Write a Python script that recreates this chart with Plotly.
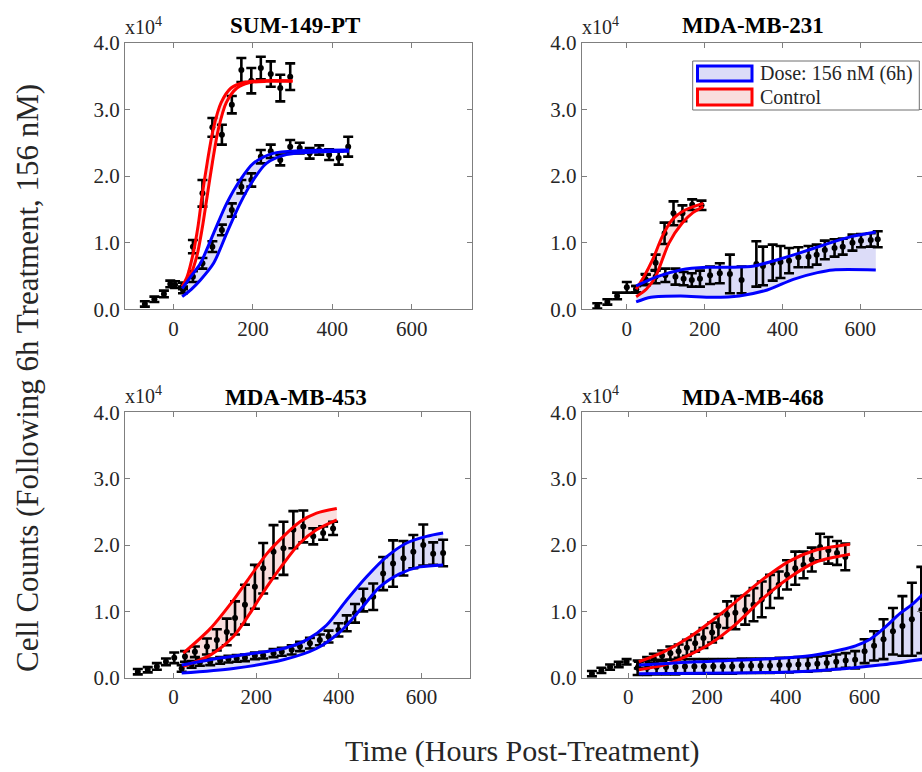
import plotly.graph_objects as go

W, H = 922, 772
FONT = "Liberation Serif, Times New Roman, serif"

# ---------------- data (cell counts in units of 1e4) ----------------
# Panel 1: SUM-149-PT
p1_pre_t = [-72, -48, -24, -8, 4]
p1_pre_v = [0.08, 0.15, 0.23, 0.38, 0.37]
p1_pre_e = [0.04, 0.04, 0.05, 0.05, 0.05]
p1_ctl_t = [24, 49, 73, 98, 122, 147, 171, 196, 220, 245, 269, 294]
p1_ctl_v = [0.35, 0.94, 1.74, 2.73, 2.62, 3.07, 3.59, 3.43, 3.62, 3.53, 3.32, 3.49]
p1_ctl_e = [0.05, 0.10, 0.20, 0.14, 0.15, 0.13, 0.18, 0.19, 0.17, 0.19, 0.20, 0.20]
p1_trt_t = [24, 49, 73, 98, 122, 147, 171, 196, 220, 245, 269, 294, 318, 343, 367, 392, 416, 440]
p1_trt_v = [0.29, 0.49, 0.69, 0.94, 1.19, 1.49, 1.84, 1.94, 2.29, 2.37, 2.24, 2.44, 2.42, 2.34, 2.39, 2.32, 2.27, 2.44]
p1_trt_e = [0.05, 0.08, 0.08, 0.08, 0.08, 0.10, 0.10, 0.10, 0.10, 0.10, 0.08, 0.10, 0.08, 0.08, 0.07, 0.08, 0.10, 0.15]
p1_rup_t = [22, 35, 50, 62, 72, 85, 100, 120, 145, 175, 220, 300]
p1_rup_v = [0.34, 0.50, 0.85, 1.25, 1.70, 2.20, 2.70, 3.10, 3.32, 3.40, 3.43, 3.43]
p1_rlo_t = [22, 42, 59, 72, 85, 98, 113, 133, 160, 190, 235, 300]
p1_rlo_v = [0.34, 0.50, 0.80, 1.20, 1.70, 2.20, 2.70, 3.10, 3.32, 3.40, 3.42, 3.42]
p1_bup_t = [22, 45, 68, 101, 134, 168, 201, 251, 317, 442]
p1_bup_v = [0.31, 0.50, 0.69, 1.14, 1.59, 1.94, 2.19, 2.34, 2.38, 2.39]
p1_blo_t = [22, 45, 68, 101, 134, 168, 201, 234, 284, 359, 442]
p1_blo_v = [0.19, 0.30, 0.44, 0.69, 1.14, 1.59, 1.94, 2.19, 2.32, 2.36, 2.37]

# Panel 2: MDA-MB-231
p2_pre_t = [-76, -50, -25, 0]
p2_pre_v = [0.05, 0.11, 0.20, 0.33]
p2_pre_e = [0.04, 0.04, 0.05, 0.08]
p2_ctl_t = [24, 48, 74, 97, 120, 143, 168, 192]
p2_ctl_v = [0.30, 0.45, 0.70, 1.14, 1.44, 1.44, 1.57, 1.56]
p2_ctl_e = [0.05, 0.08, 0.12, 0.16, 0.18, 0.12, 0.08, 0.07]
p2_trt_t = [24, 49, 74, 99, 125, 146, 167, 188, 214, 239, 265, 295, 333, 350, 375, 395, 417, 441, 467, 488, 509, 534, 555, 580, 602, 627, 645]
p2_trt_v = [0.30, 0.44, 0.49, 0.51, 0.49, 0.46, 0.44, 0.46, 0.51, 0.54, 0.53, 0.44, 0.68, 0.65, 0.70, 0.71, 0.73, 0.78, 0.79, 0.82, 0.89, 0.92, 0.94, 1.00, 1.03, 1.04, 1.05]
p2_trt_e = [0.05, 0.08, 0.10, 0.10, 0.12, 0.10, 0.10, 0.12, 0.13, 0.15, 0.29, 0.20, 0.34, 0.29, 0.27, 0.24, 0.19, 0.15, 0.16, 0.15, 0.14, 0.13, 0.12, 0.12, 0.10, 0.10, 0.12]
p2_rup_t = [24, 45, 66, 91, 116, 150, 197]
p2_rup_v = [0.30, 0.50, 0.74, 1.09, 1.34, 1.49, 1.59]
p2_rlo_t = [24, 50, 74, 108, 142, 170, 197]
p2_rlo_v = [0.19, 0.30, 0.49, 0.99, 1.29, 1.45, 1.54]
p2_bup_t = [24, 78, 138, 205, 273, 327, 374, 441, 509, 576, 640]
p2_bup_v = [0.35, 0.49, 0.59, 0.63, 0.63, 0.65, 0.72, 0.84, 0.97, 1.09, 1.16]
p2_blo_t = [24, 62, 138, 221, 289, 361, 428, 490, 530, 640]
p2_blo_v = [0.11, 0.18, 0.20, 0.18, 0.20, 0.29, 0.45, 0.55, 0.59, 0.59]

# Panel 3: MDA-MB-453
p3_pre_t = [-86, -62, -40, -18, 2]
p3_pre_v = [0.09, 0.12, 0.17, 0.24, 0.30]
p3_pre_e = [0.04, 0.04, 0.05, 0.05, 0.08]
p3_ctl_t = [28, 52, 81, 105, 129, 149, 173, 197, 217, 242, 266, 290, 314, 338, 362, 386]
p3_ctl_v = [0.32, 0.39, 0.47, 0.57, 0.69, 0.90, 1.10, 1.37, 1.65, 1.90, 1.95, 2.23, 2.28, 2.13, 2.18, 2.25]
p3_ctl_e = [0.08, 0.08, 0.12, 0.16, 0.20, 0.25, 0.30, 0.33, 0.38, 0.40, 0.40, 0.28, 0.24, 0.12, 0.10, 0.10]
p3_trt_t = [20, 44, 64, 89, 113, 133, 153, 173, 197, 217, 242, 262, 286, 306, 330, 354, 375, 399, 419, 439, 459, 483, 507, 531, 556, 580, 604, 628, 652]
p3_trt_v = [0.14, 0.20, 0.23, 0.24, 0.26, 0.28, 0.29, 0.30, 0.33, 0.34, 0.37, 0.39, 0.42, 0.47, 0.52, 0.57, 0.62, 0.72, 0.82, 0.97, 1.17, 1.22, 1.57, 1.72, 1.80, 1.90, 2.00, 1.87, 1.88]
p3_trt_e = [0.05, 0.05, 0.05, 0.05, 0.05, 0.05, 0.05, 0.05, 0.05, 0.05, 0.06, 0.06, 0.07, 0.07, 0.08, 0.08, 0.09, 0.10, 0.12, 0.14, 0.17, 0.20, 0.25, 0.35, 0.26, 0.25, 0.31, 0.17, 0.20]
p3_rup_t = [24, 89, 145, 185, 226, 266, 306, 346, 395]
p3_rup_v = [0.37, 0.74, 1.17, 1.52, 1.87, 2.13, 2.35, 2.48, 2.55]
p3_rlo_t = [24, 89, 145, 185, 226, 266, 306, 346, 395]
p3_rlo_v = [0.17, 0.34, 0.62, 0.97, 1.37, 1.72, 2.03, 2.23, 2.38]
p3_bup_t = [20, 105, 185, 266, 322, 370, 419, 467, 515, 564, 612, 652]
p3_bup_v = [0.19, 0.29, 0.36, 0.44, 0.57, 0.79, 1.17, 1.52, 1.82, 2.03, 2.13, 2.18]
p3_blo_t = [20, 145, 266, 346, 403, 451, 499, 548, 596, 652]
p3_blo_v = [0.07, 0.14, 0.27, 0.44, 0.69, 1.02, 1.37, 1.57, 1.67, 1.70]

# Panel 4: MDA-MB-468
p4_pre_t = [-92, -68, -46, -24, -4]
p4_pre_v = [0.06, 0.11, 0.16, 0.20, 0.24]
p4_pre_e = [0.04, 0.04, 0.04, 0.04, 0.04]
p4_ctl_t = [27, 48, 65, 86, 107, 128, 149, 170, 191, 213, 229, 251, 272, 297, 318, 339, 360, 382, 403, 424, 445, 466, 487, 508, 530, 551]
p4_ctl_v = [0.19, 0.25, 0.29, 0.33, 0.37, 0.40, 0.45, 0.52, 0.60, 0.68, 0.78, 0.95, 0.98, 1.02, 1.10, 1.18, 1.30, 1.40, 1.55, 1.65, 1.70, 1.78, 1.97, 1.92, 1.88, 1.82]
p4_ctl_e = [0.05, 0.06, 0.07, 0.08, 0.10, 0.10, 0.12, 0.13, 0.15, 0.15, 0.18, 0.20, 0.25, 0.22, 0.25, 0.27, 0.25, 0.20, 0.22, 0.25, 0.20, 0.18, 0.20, 0.20, 0.18, 0.20]
p4_trt_t = [24, 48, 72, 96, 120, 144, 168, 192, 216, 240, 264, 288, 312, 336, 360, 384, 408, 432, 456, 480, 504, 528, 552, 576, 600, 624, 648, 672, 696, 720, 744]
p4_trt_v = [0.15, 0.15, 0.16, 0.16, 0.16, 0.17, 0.17, 0.17, 0.17, 0.17, 0.17, 0.18, 0.18, 0.18, 0.18, 0.19, 0.19, 0.20, 0.20, 0.21, 0.22, 0.24, 0.26, 0.27, 0.40, 0.48, 0.58, 0.70, 0.78, 0.88, 1.02]
p4_trt_e = [0.11, 0.11, 0.11, 0.11, 0.11, 0.11, 0.11, 0.11, 0.11, 0.11, 0.11, 0.11, 0.11, 0.11, 0.11, 0.11, 0.11, 0.11, 0.11, 0.11, 0.11, 0.11, 0.11, 0.13, 0.18, 0.22, 0.30, 0.35, 0.45, 0.55, 0.65]
p4_rup_t = [27, 90, 158, 215, 272, 339, 407, 475, 563]
p4_rup_v = [0.24, 0.39, 0.62, 0.87, 1.14, 1.47, 1.75, 1.92, 2.01]
p4_rlo_t = [27, 90, 150, 210, 272, 339, 407, 475, 563]
p4_rlo_v = [0.12, 0.19, 0.33, 0.52, 0.80, 1.18, 1.50, 1.74, 1.86]
p4_bup_t = [27, 175, 344, 470, 540, 577, 614, 650, 690, 720, 750]
p4_bup_v = [0.19, 0.24, 0.28, 0.34, 0.42, 0.48, 0.58, 0.75, 0.97, 1.10, 1.27]
p4_blo_t = [27, 259, 428, 555, 639, 750]
p4_blo_v = [0.06, 0.07, 0.09, 0.14, 0.19, 0.28]

titles = ["SUM-149-PT", "MDA-MB-231", "MDA-MB-453", "MDA-MB-468"]
x_ticks = [0, 200, 400, 600]
y_ticks = [0, 1, 2, 3, 4]
y_ticktext = ["0.0", "1.0", "2.0", "3.0", "4.0"]
legend_labels = ["Dose: 156 nM (6h)", "Control"]

panels = [
    dict(pre=(p1_pre_t, p1_pre_v, p1_pre_e), ctl=(p1_ctl_t, p1_ctl_v, p1_ctl_e), trt=(p1_trt_t, p1_trt_v, p1_trt_e),
         rup=(p1_rup_t, p1_rup_v), rlo=(p1_rlo_t, p1_rlo_v), bup=(p1_bup_t, p1_bup_v), blo=(p1_blo_t, p1_blo_v)),
    dict(pre=(p2_pre_t, p2_pre_v, p2_pre_e), ctl=(p2_ctl_t, p2_ctl_v, p2_ctl_e), trt=(p2_trt_t, p2_trt_v, p2_trt_e),
         rup=(p2_rup_t, p2_rup_v), rlo=(p2_rlo_t, p2_rlo_v), bup=(p2_bup_t, p2_bup_v), blo=(p2_blo_t, p2_blo_v)),
    dict(pre=(p3_pre_t, p3_pre_v, p3_pre_e), ctl=(p3_ctl_t, p3_ctl_v, p3_ctl_e), trt=(p3_trt_t, p3_trt_v, p3_trt_e),
         rup=(p3_rup_t, p3_rup_v), rlo=(p3_rlo_t, p3_rlo_v), bup=(p3_bup_t, p3_bup_v), blo=(p3_blo_t, p3_blo_v)),
    dict(pre=(p4_pre_t, p4_pre_v, p4_pre_e), ctl=(p4_ctl_t, p4_ctl_v, p4_ctl_e), trt=(p4_trt_t, p4_trt_v, p4_trt_e),
         rup=(p4_rup_t, p4_rup_v), rlo=(p4_rlo_t, p4_rlo_v), bup=(p4_bup_t, p4_bup_v), blo=(p4_blo_t, p4_blo_v)),
]

# ---------------- layout geometry (pixels) ----------------
boxes = [  # x0, x1, ytop, ybottom
    (125.0, 471.7, 42.7, 309.3),
    (581.7, 922.0, 42.7, 309.3),
    (125.0, 470.0, 412.3, 677.7),
    (581.7, 922.0, 412.3, 677.7),
]
x_ranges = [[-122, 751], [-116, 758.8], [-117, 717], [-118, 745.7]]

RED = "#ff0000"
BLUE = "#0000ff"
RED_FILL = "#f9dede"
BLUE_FILL = "#dcdcf8"
AX = "#7f7f7f"
TXT = "#262626"

fig = go.Figure()


def px(x):
    return x / W


def py(y):
    return 1 - y / H


for i, p in enumerate(panels):
    xa = "x" if i == 0 else f"x{i+1}"
    ya = "y" if i == 0 else f"y{i+1}"
    common = dict(xaxis=xa, yaxis=ya, showlegend=False, hoverinfo="skip")
    # bands
    for lo, up, fc in ((p["rlo"], p["rup"], RED_FILL), (p["blo"], p["bup"], BLUE_FILL)):
        fig.add_trace(go.Scatter(x=lo[0], y=lo[1], mode="lines", line=dict(width=0, shape="spline", smoothing=0.8), **common))
        fig.add_trace(go.Scatter(x=up[0], y=up[1], mode="lines", line=dict(width=0, shape="spline", smoothing=0.8),
                                 fill="tonexty", fillcolor=fc, **common))
    # data with error bars
    for key in ("pre", "trt", "ctl"):
        t, v, e = p[key]
        fig.add_trace(go.Scatter(
            x=t, y=v, mode="markers",
            marker=dict(color="black", size=6),
            error_y=dict(type="data", array=e, visible=True, color="black", thickness=2.6, width=5),
            **common))
    # fit lines
    for (t, v), col in ((p["rup"], RED), (p["rlo"], RED), (p["bup"], BLUE), (p["blo"], BLUE)):
        fig.add_trace(go.Scatter(x=t, y=v, mode="lines",
                                 line=dict(color=col, width=3, shape="spline", smoothing=0.8), **common))

# empty traces for the right-hand tick axes of the clipped panels
fig.add_trace(go.Scatter(x=[], y=[], xaxis="x2", yaxis="y5", showlegend=False))
fig.add_trace(go.Scatter(x=[], y=[], xaxis="x4", yaxis="y6", showlegend=False))

axis_style = dict(showline=True, linecolor=AX, linewidth=1, ticks="inside", ticklen=5, tickcolor=AX,
                  tickwidth=1, showgrid=False, zeroline=False,
                  tickfont=dict(family=FONT, size=21, color=TXT))

layout = dict(width=W, height=H, margin=dict(l=0, r=0, t=0, b=0, autoexpand=False), plot_bgcolor="white",
              paper_bgcolor="white", showlegend=False)

for i, (x0, x1, yt, yb) in enumerate(boxes):
    xk = "xaxis" if i == 0 else f"xaxis{i+1}"
    yk = "yaxis" if i == 0 else f"yaxis{i+1}"
    xa = "x" if i == 0 else f"x{i+1}"
    ya = "y" if i == 0 else f"y{i+1}"
    layout[xk] = dict(axis_style, domain=[px(x0), px(x1)], anchor=ya, range=x_ranges[i],
                      tickvals=x_ticks, mirror="ticks", automargin=False)
    right_clipped = i in (1, 3)
    layout[yk] = dict(axis_style, domain=[py(yb), py(yt)], anchor=xa, range=[0, 4],
                      tickvals=y_ticks, ticktext=y_ticktext, automargin=False,
                      mirror=False if right_clipped else "ticks")

layout["yaxis5"] = dict(axis_style, overlaying="y2", anchor="x2", side="right", range=[0, 4],
                        tickvals=y_ticks, showticklabels=False, showline=False, automargin=False)
layout["yaxis6"] = dict(axis_style, overlaying="y4", anchor="x4", side="right", range=[0, 4],
                        tickvals=y_ticks, showticklabels=False, showline=False, automargin=False)

ann = []
title_pos = [(295, 25), (753, 25), (296, 397), (753, 397)]
for (tx, ty), name in zip(title_pos, titles):
    ann.append(dict(text=f"<b>{name}</b>", x=px(tx), y=py(ty), xref="paper", yref="paper",
                    xanchor="center", yanchor="middle", showarrow=False,
                    font=dict(family=FONT, size=23, color="black")))
exp_pos = [(123, 26), (580, 26), (123, 395), (580, 395)]
for ex, ey in exp_pos:
    ann.append(dict(text="x10<sup>4</sup>", x=px(ex), y=py(ey), xref="paper", yref="paper",
                    xanchor="left", yanchor="middle", showarrow=False,
                    font=dict(family=FONT, size=20, color=TXT)))
ann.append(dict(text="Cell Counts (Following 6h Treatment, 156 nM)", x=px(27), y=py(378),
                xref="paper", yref="paper", textangle=-90, showarrow=False,
                xanchor="center", yanchor="middle", font=dict(family=FONT, size=31, color=TXT)))
ann.append(dict(text="Time (Hours Post-Treatment)", x=px(522), y=py(751), xref="paper", yref="paper",
                showarrow=False, xanchor="center", yanchor="middle",
                font=dict(family=FONT, size=30, color=TXT)))
# legend (drawn inside the MDA-MB-231 panel)
ann.append(dict(text=legend_labels[0], x=px(758), y=py(73.5), xref="paper", yref="paper", showarrow=False,
                xanchor="left", yanchor="middle", font=dict(family=FONT, size=20, color=TXT)))
ann.append(dict(text=legend_labels[1], x=px(758), y=py(97), xref="paper", yref="paper", showarrow=False,
                xanchor="left", yanchor="middle", font=dict(family=FONT, size=20, color=TXT)))
layout["annotations"] = ann

layout["shapes"] = [
    dict(type="rect", xref="paper", yref="paper", x0=px(692.7), x1=px(919.3), y0=py(110), y1=py(61),
         line=dict(color="#6e6e6e", width=1), fillcolor="white", layer="above"),
    dict(type="rect", xref="paper", yref="paper", x0=px(697.5), x1=px(752), y0=py(81), y1=py(66),
         line=dict(color=BLUE, width=3), fillcolor=BLUE_FILL, layer="above"),
    dict(type="rect", xref="paper", yref="paper", x0=px(697.5), x1=px(752), y0=py(105), y1=py(89),
         line=dict(color=RED, width=3), fillcolor=RED_FILL, layer="above"),
]

fig.update_layout(**layout)
fig.write_html(
    "out.html",
    config={"displayModeBar": False, "staticPlot": True},
    post_script="document.body.style.margin='0px';document.body.style.overflow='hidden';"
                "document.documentElement.style.overflow='hidden';",
)
